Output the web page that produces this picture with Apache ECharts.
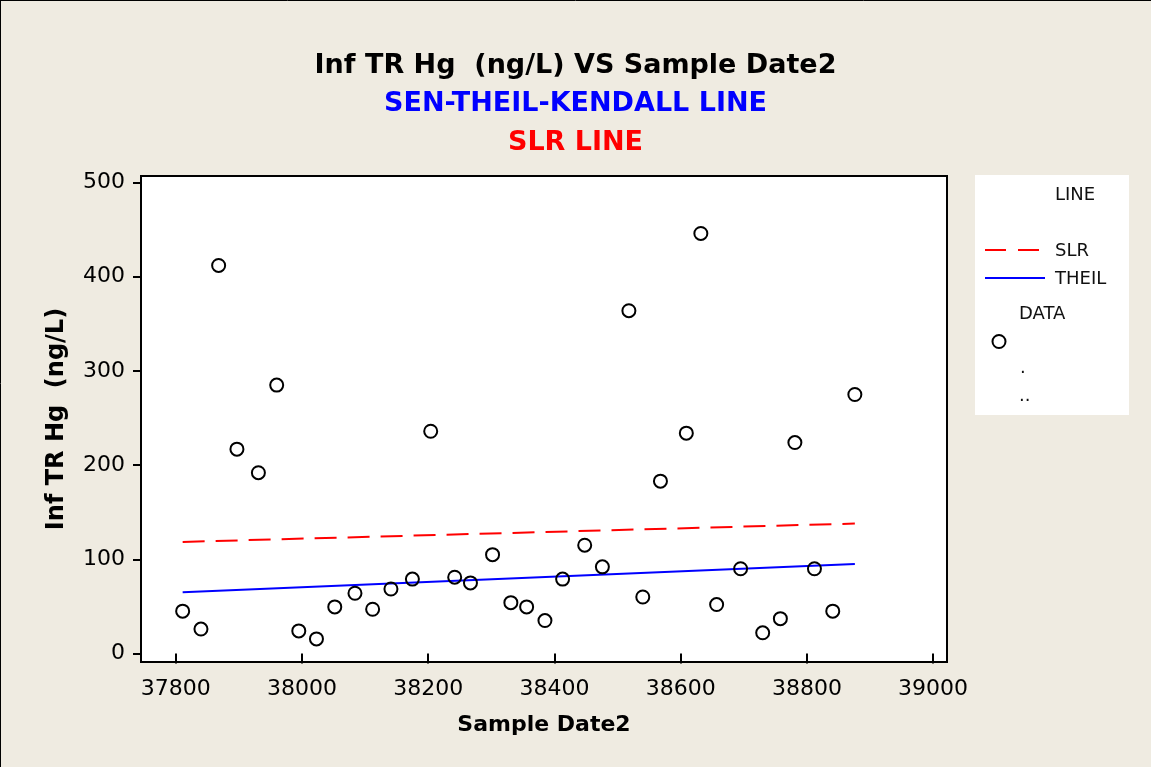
<!DOCTYPE html>
<html>
<head>
<meta charset="utf-8">
<script src="https://cdn.jsdelivr.net/npm/echarts@6/dist/echarts.min.js"></script>
<style>
  html, body { margin: 0; padding: 0; background: #EFEBE1; }
  #chart { width: 1151px; height: 767px; }
</style>
</head>
<body>
<div id="chart"></div>
<script>
// ---- data ----
const sampleDates = [37811, 37840, 37868, 37897, 37931, 37960, 37995, 38023, 38052, 38084, 38112, 38141,
                     38175, 38204, 38242, 38267, 38302, 38331, 38356, 38385, 38413, 38448, 38476, 38518,
                     38540, 38568, 38609, 38632, 38657, 38695, 38730, 38758, 38781, 38812, 38841, 38876];
const infTRHg = [45, 26, 412, 217, 192, 285, 24, 15.5, 49.5, 64, 47, 68.5,
                 79, 236, 81, 75, 105, 54, 49.5, 35, 79, 115, 92, 364,
                 60, 183, 234, 446, 52, 90, 22, 37, 224, 90, 45, 275];
// fitted lines (endpoints)
const slrX = [37811, 38876];
const slrY = [118.5, 138];
const theilX = [37811, 38876];
const theilY = [65, 95];
// axes
const xTicks = [37800, 38000, 38200, 38400, 38600, 38800, 39000];
const yTicks = [0, 100, 200, 300, 400, 500];
const xExtent = [37745, 39022];
const yExtent = [-9, 507];
// texts
const titleMain = 'Inf TR Hg  (ng/L) VS Sample Date2';
const titleSub1 = 'SEN-THEIL-KENDALL LINE';
const titleSub2 = 'SLR LINE';
const xName = 'Sample Date2';
const yName = 'Inf TR Hg  (ng/L)';
const legendItems = ['LINE', 'SLR', 'THEIL', 'DATA', '.', '..'];

const FONT = 'DejaVu Sans';
const scatterData = sampleDates.map((d, i) => [d, infTRHg[i]]);
const slrData = slrX.map((d, i) => [d, slrY[i]]);
const theilData = theilX.map((d, i) => [d, theilY[i]]);

const chart = echarts.init(document.getElementById('chart'), null, { renderer: 'canvas' });

const legendText = (txt, x, y) => ({
  type: 'text', x: x, y: y, z: 11,
  style: { text: txt, fill: '#111', font: '18px "' + FONT + '"', textVerticalAlign: 'middle', textAlign: 'left' }
});

const option = {
  animation: false,
  backgroundColor: '#EFEBE1',
  title: [
    { text: titleMain, left: 'center', top: 47,
      textStyle: { fontFamily: FONT, fontWeight: 'bold', fontSize: 27, color: '#000' } },
    { text: titleSub1, left: 'center', top: 85,
      textStyle: { fontFamily: FONT, fontWeight: 'bold', fontSize: 27, color: '#0000FF' } },
    { text: titleSub2, left: 'center', top: 124,
      textStyle: { fontFamily: FONT, fontWeight: 'bold', fontSize: 27, color: '#FF0000' } }
  ],
  grid: {
    left: 141, top: 176, right: 204, bottom: 105,
    show: true, backgroundColor: '#FFFFFF', borderColor: '#000', borderWidth: 2,
    containLabel: false
  },
  xAxis: {
    type: 'value', min: xExtent[0], max: xExtent[1],
    name: xName, nameLocation: 'middle', nameGap: 52,
    nameTextStyle: { fontFamily: FONT, fontWeight: 'bold', fontSize: 22, color: '#000' },
    axisLine: { show: false },
    axisTick: { show: true, inside: false, length: 10, customValues: xTicks,
                lineStyle: { color: '#000', width: 2 } },
    axisLabel: { show: true, customValues: xTicks, margin: 16,
                 formatter: v => String(v),
                 fontFamily: FONT, fontSize: 22, color: '#000',
                 showMinLabel: true, showMaxLabel: true },
    splitLine: { show: false }
  },
  yAxis: {
    type: 'value', min: yExtent[0], max: yExtent[1],
    name: yName, nameLocation: 'middle', nameGap: 72, nameRotate: 90,
    nameTextStyle: { fontFamily: FONT, fontWeight: 'bold', fontSize: 24, color: '#000' },
    axisLine: { show: false },
    axisTick: { show: true, inside: false, length: 8, customValues: yTicks,
                lineStyle: { color: '#000', width: 2 } },
    axisLabel: { show: true, customValues: yTicks, margin: 16,
                 formatter: v => String(v), padding: [4, 0, 0, 0],
                 fontFamily: FONT, fontSize: 22, color: '#000' },
    splitLine: { show: false }
  },
  series: [
    { name: 'SLR', type: 'line', data: slrData, showSymbol: false, symbol: 'none',
      lineStyle: { color: '#FF0000', width: 2, type: [22, 11] }, z: 2 },
    { name: 'THEIL', type: 'line', data: theilData, showSymbol: false, symbol: 'none',
      lineStyle: { color: '#0000FF', width: 2, type: 'solid' }, z: 2 },
    { name: 'DATA', type: 'scatter', data: scatterData, symbol: 'circle', symbolSize: 13,
      itemStyle: { color: 'rgba(255,255,255,0)', borderColor: '#000', borderWidth: 2, opacity: 1 }, z: 3 }
  ],
  graphic: [
    { type: 'line', shape: { x1: 0, y1: 0.5, x2: 1151, y2: 0.5 },
      style: { stroke: '#000', lineWidth: 1 }, z: 100, silent: true },
    { type: 'line', shape: { x1: 0.5, y1: 0, x2: 0.5, y2: 767 },
      style: { stroke: '#000', lineWidth: 1 }, z: 100, silent: true },
    { type: 'rect', shape: { x: 975, y: 175, width: 154, height: 240 },
      style: { fill: '#FFFFFF', stroke: 'none' }, z: 10 },
    { type: 'line', shape: { x1: 985, y1: 250, x2: 1040, y2: 250 },
      style: { stroke: '#FF0000', lineWidth: 2, lineDash: [21, 12] }, z: 11 },
    { type: 'line', shape: { x1: 985, y1: 278, x2: 1045, y2: 278 },
      style: { stroke: '#0000FF', lineWidth: 2 }, z: 11 },
    { type: 'circle', shape: { cx: 999, cy: 341.5, r: 6.5 },
      style: { fill: 'none', stroke: '#000', lineWidth: 2 }, z: 11 },
    legendText(legendItems[0], 1055, 195),
    legendText(legendItems[1], 1055, 251),
    legendText(legendItems[2], 1055, 279),
    legendText(legendItems[3], 1019, 314),
    legendText(legendItems[4], 1020, 368),
    legendText(legendItems[5], 1019, 396)
  ]
};
chart.setOption(option);
</script>
</body>
</html>
